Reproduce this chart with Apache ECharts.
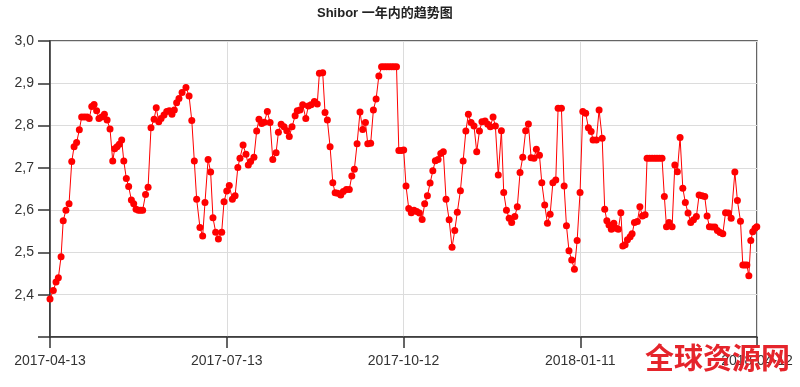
<!DOCTYPE html>
<html>
<head>
<meta charset="utf-8">
<script src="https://cdn.jsdelivr.net/npm/echarts@6/dist/echarts.min.js"></script>
<style>
html,body{margin:0;padding:0;background:#fff;}
#chart{width:800px;height:387px;}
</style>
</head>
<body>
<div id="chart"></div>
<script>
// Chart title
var chartTitle = 'Shibor 一年内的趋势图';
// x: days since the start date
var startDate = '2017-04-13';
var xTickDays = [0, 91, 182, 273, 364];
var dayOffsets = [
0.0,1.7,3.1,4.3,5.7,6.8,8.2,9.8,11.2,12.4,13.7,15.1,16.3,17.7,19.1,20.2,21.5,22.7,24.0,25.2,
26.6,28.0,29.4,30.9,32.3,33.3,34.5,35.7,36.9,38.0,39.3,40.5,41.9,43.1,44.3,45.5,46.6,47.7,49.2,50.5,
52.0,53.6,54.7,56.0,57.2,58.7,60.1,61.4,62.8,64.0,65.2,66.4,68.0,70.0,71.6,73.0,74.3,75.5,77.2,78.6,
79.8,81.4,82.7,83.9,85.3,86.7,88.4,89.6,91.0,92.3,93.9,95.3,96.7,97.8,99.4,100.9,102.1,103.3,105.0,106.4,
107.6,109.0,110.3,111.9,113.3,114.7,116.4,117.6,119.0,120.5,121.9,123.2,124.6,126.2,127.3,128.7,130.1,131.7,133.0,134.4,
136.1,137.6,138.7,140.4,141.6,142.8,144.2,145.6,146.8,148.1,149.7,151.0,152.6,154.1,155.4,156.7,158.1,159.6,161.0,162.4,
163.6,165.1,166.5,167.9,169.3,170.7,172.0,173.3,174.6,175.9,177.1,178.4,179.6,180.9,182.1,183.3,184.7,186.0,187.4,188.8,
190.2,191.6,192.9,194.3,195.7,197.1,198.4,199.8,201.2,202.5,203.9,205.5,207.0,208.4,209.7,211.3,212.7,214.1,215.4,216.8,
218.3,219.7,221.1,222.4,224.0,225.4,226.7,228.1,229.3,230.8,232.4,233.6,235.0,236.4,237.7,239.3,240.6,242.0,243.4,244.9,
246.3,247.7,249.2,250.4,252.0,253.2,254.7,256.1,257.5,258.9,260.4,261.6,263.3,264.7,265.9,267.2,268.6,270.0,271.4,272.9,
274.3,275.8,277.2,278.6,279.6,281.3,282.7,284.3,285.6,286.7,287.8,289.0,290.3,291.4,292.6,293.9,294.9,296.1,297.3,298.7,
299.7,300.9,302.4,303.7,305.0,306.4,307.4,308.7,310.0,311.3,312.5,313.8,315.1,316.3,317.4,318.7,320.3,321.7,323.0,324.4,
325.8,327.1,328.5,329.9,331.3,332.8,334.2,335.7,337.1,338.3,339.5,340.9,342.3,343.6,345.0,346.4,347.8,349.3,350.7,352.6,
353.9,355.5,356.7,357.7,358.8,359.8,360.8,361.8,363.0,363.9
];
var rates = [
2.39,2.41,2.43,2.44,2.49,2.575,2.60,2.615,2.715,2.75,2.76,2.79,2.82,2.82,2.82,2.817,2.845,2.85,2.835,2.817,
2.82,2.827,2.813,2.792,2.716,2.745,2.75,2.756,2.766,2.716,2.675,2.656,2.624,2.615,2.602,2.60,2.60,2.60,2.637,2.654,
2.795,2.815,2.842,2.809,2.817,2.825,2.833,2.835,2.827,2.837,2.854,2.864,2.878,2.89,2.87,2.812,2.716,2.626,2.559,2.539,
2.618,2.72,2.69,2.582,2.548,2.532,2.548,2.62,2.645,2.658,2.626,2.634,2.701,2.723,2.754,2.732,2.707,2.715,2.725,2.787,
2.815,2.805,2.808,2.833,2.807,2.72,2.736,2.784,2.803,2.797,2.788,2.774,2.797,2.823,2.835,2.837,2.849,2.817,2.846,2.849,
2.857,2.851,2.924,2.925,2.831,2.813,2.75,2.665,2.641,2.64,2.636,2.644,2.649,2.649,2.681,2.697,2.757,2.832,2.791,2.807,
2.757,2.758,2.837,2.863,2.917,2.939,2.939,2.939,2.939,2.939,2.939,2.939,2.741,2.741,2.742,2.657,2.604,2.594,2.60,2.597,
2.593,2.578,2.615,2.634,2.664,2.693,2.717,2.72,2.734,2.738,2.626,2.577,2.512,2.552,2.595,2.646,2.716,2.787,2.827,2.807,
2.799,2.738,2.787,2.809,2.811,2.803,2.797,2.82,2.799,2.683,2.788,2.642,2.60,2.581,2.571,2.585,2.608,2.689,2.725,2.788,
2.804,2.724,2.723,2.744,2.73,2.665,2.612,2.569,2.59,2.665,2.671,2.841,2.841,2.657,2.563,2.504,2.482,2.46,2.528,2.642,
2.833,2.829,2.795,2.786,2.766,2.766,2.837,2.77,2.602,2.575,2.565,2.555,2.569,2.557,2.555,2.594,2.515,2.518,2.53,2.537,
2.544,2.571,2.573,2.608,2.586,2.589,2.723,2.723,2.723,2.723,2.723,2.723,2.723,2.632,2.561,2.571,2.561,2.707,2.691,2.772,
2.652,2.618,2.593,2.571,2.577,2.585,2.636,2.634,2.632,2.586,2.561,2.56,2.56,2.552,2.547,2.544,2.594,2.593,2.581,2.69,
2.623,2.574,2.47,2.47,2.47,2.445,2.528,2.549,2.557,2.561
];
var yMin = 2.3, yMax = 3.0, yStep = 0.1;
var watermarkText = '全球资源网';

function dayToDate(d) {
  var p = startDate.split('-');
  var t = Date.UTC(+p[0], +p[1] - 1, +p[2]) + Math.round(d) * 86400000;
  var dt = new Date(t);
  var m = dt.getUTCMonth() + 1, dd = dt.getUTCDate();
  return dt.getUTCFullYear() + '-' + (m < 10 ? '0' : '') + m + '-' + (dd < 10 ? '0' : '') + dd;
}

var seriesData = dayOffsets.map(function (d, i) { return [d, rates[i]]; });

var chart = echarts.init(document.getElementById('chart'), null, {renderer: 'canvas'});
chart.setOption({
  animation: false,
  backgroundColor: '#ffffff',
  title: {
    text: chartTitle,
    left: 312,
    top: 2,
    textStyle: {fontFamily: 'Liberation Sans, "Noto Sans CJK SC", sans-serif', fontSize: 13, fontWeight: 'bold', color: '#222'}
  },
  grid: {
    left: 50, right: 43, top: 41, bottom: 50,
    show: true, borderColor: '#333', borderWidth: 1.5, backgroundColor: 'transparent'
  },
  xAxis: {
    type: 'value',
    min: xTickDays[0], max: xTickDays[xTickDays.length - 1], interval: 91,
    axisLine: {show: true, onZero: false, lineStyle: {color: '#333', width: 1.5}},
    axisTick: {show: true, length: 11, lineStyle: {color: '#333', width: 1.5}},
    axisLabel: {
      show: true, margin: 17, color: '#333', fontSize: 14,
      fontFamily: 'Liberation Sans, Arial, sans-serif',
      showMinLabel: true, showMaxLabel: true,
      formatter: function (v) { return dayToDate(v); }
    },
    splitLine: {show: true, lineStyle: {color: '#dcdcdc', width: 1}}
  },
  yAxis: {
    type: 'value',
    min: yMin, max: yMax, interval: yStep,
    axisLine: {show: true, lineStyle: {color: '#333', width: 1.5}},
    axisTick: {show: true, length: 12, lineStyle: {color: '#333', width: 1.5}},
    axisLabel: {
      show: true, margin: 16, color: '#333', fontSize: 14,
      fontFamily: 'Liberation Sans, Arial, sans-serif',
      formatter: function (v) { return v < yMin + yStep / 2 ? '' : v.toFixed(1).replace('.', ','); }
    },
    splitLine: {show: true, lineStyle: {color: '#dcdcdc', width: 1}}
  },
  graphic: [{
    type: 'text',
    left: 645, top: 343, z: 100,
    style: {text: watermarkText, fill: '#e5242b', font: 'bold 29px "Noto Sans CJK SC", sans-serif'}
  }],
  series: [{
    type: 'line',
    data: seriesData,
    symbol: 'circle',
    symbolSize: 7,
    showSymbol: true,
    showAllSymbol: true,
    lineStyle: {color: '#ff0000', width: 1},
    itemStyle: {color: '#ff0000', borderWidth: 0},
    clip: false
  }]
});
</script>
</body>
</html>
